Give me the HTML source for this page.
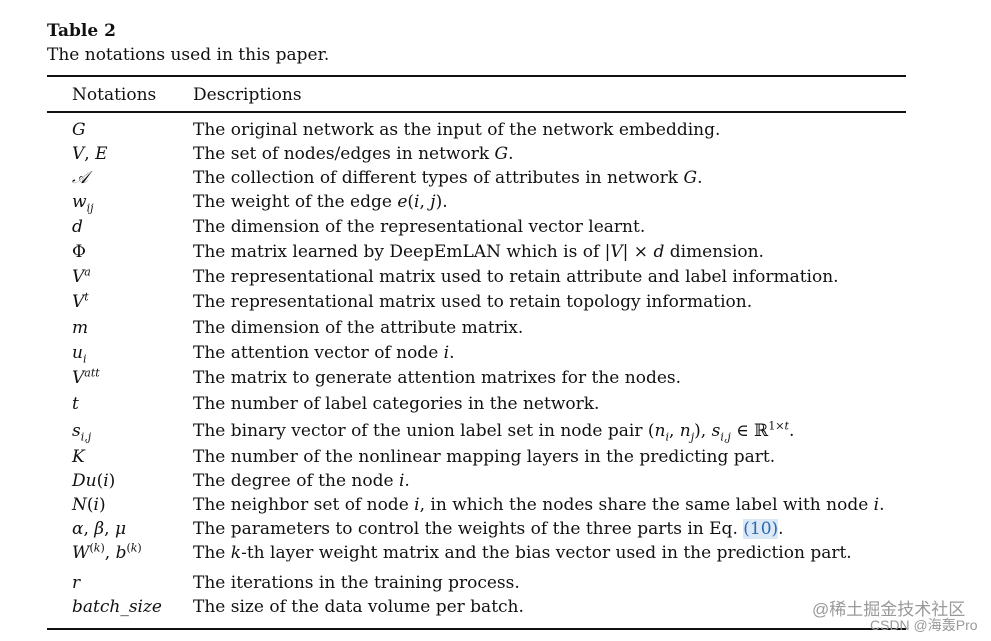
<!DOCTYPE html>
<html><head><meta charset="utf-8"><style>
body{margin:0;width:991px;height:641px;background:#fff;position:relative;overflow:hidden;font-family:"DejaVu Serif","Liberation Serif",serif;color:#111;font-size:17px}
.a{position:absolute;white-space:nowrap;line-height:20px}
.n{left:72px}.d{left:193px}
.r{position:absolute;left:47px;width:859px;background:#111}
i{font-style:italic}
sup,sub{font-size:11px;line-height:0}
</style></head><body>
<div class="a" style="left:47px;top:21px;font-weight:bold;font-size:17px">Table 2</div>
<div class="a" style="left:47px;top:45px">The notations used in this paper.</div>
<div class="r" style="top:75px;height:1.5px"></div>
<div class="a n" style="top:85px">Notations</div><div class="a d" style="top:85px">Descriptions</div>
<div class="r" style="top:111px;height:1.5px"></div>
<div class="a n" style="top:120px"><i>G</i></div><div class="a d" style="top:120px">The original network as the input of the network embedding.</div>
<div class="a n" style="top:144px"><i>V</i>, <i>E</i></div><div class="a d" style="top:144px">The set of nodes/edges in network <i>G</i>.</div>
<div class="a n" style="top:168px"><i>𝒜</i></div><div class="a d" style="top:168px">The collection of different types of attributes in network <i>G</i>.</div>
<div class="a n" style="top:192px"><i>w<sub>ij</sub></i></div><div class="a d" style="top:192px">The weight of the edge <i>e</i>(<i>i</i>, <i>j</i>).</div>
<div class="a n" style="top:217px"><i>d</i></div><div class="a d" style="top:217px">The dimension of the representational vector learnt.</div>
<div class="a n" style="top:242px">Φ</div><div class="a d" style="top:242px">The matrix learned by DeepEmLAN which is of |<i>V</i>| × <i>d</i> dimension.</div>
<div class="a n" style="top:267px"><i>V<sup>a</sup></i></div><div class="a d" style="top:267px">The representational matrix used to retain attribute and label information.</div>
<div class="a n" style="top:292px"><i>V<sup>t</sup></i></div><div class="a d" style="top:292px">The representational matrix used to retain topology information.</div>
<div class="a n" style="top:318px"><i>m</i></div><div class="a d" style="top:318px">The dimension of the attribute matrix.</div>
<div class="a n" style="top:343px"><i>u<sub>i</sub></i></div><div class="a d" style="top:343px">The attention vector of node <i>i</i>.</div>
<div class="a n" style="top:368px"><i>V<sup>att</sup></i></div><div class="a d" style="top:368px">The matrix to generate attention matrixes for the nodes.</div>
<div class="a n" style="top:394px"><i>t</i></div><div class="a d" style="top:394px">The number of label categories in the network.</div>
<div class="a n" style="top:421px"><i>s<sub>i,j</sub></i></div><div class="a d" style="top:421px">The binary vector of the union label set in node pair (<i>n<sub>i</sub></i>, <i>n<sub>j</sub></i>), <i>s<sub>i,j</sub></i> ∈ ℝ<sup>1×<i>t</i></sup>.</div>
<div class="a n" style="top:447px"><i>K</i></div><div class="a d" style="top:447px">The number of the nonlinear mapping layers in the predicting part.</div>
<div class="a n" style="top:471px"><i>Du</i>(<i>i</i>)</div><div class="a d" style="top:471px">The degree of the node <i>i</i>.</div>
<div class="a n" style="top:495px"><i>N</i>(<i>i</i>)</div><div class="a d" style="top:495px">The neighbor set of node <i>i</i>, in which the nodes share the same label with node <i>i</i>.</div>
<div class="a n" style="top:519px"><i>α</i>, <i>β</i>, <i>μ</i></div><div class="a d" style="top:519px">The parameters to control the weights of the three parts in Eq. <span style="color:#2a6ab0;background:#dbe8f5">(10)</span>.</div>
<div class="a n" style="top:543px"><i>W</i><sup>(<i>k</i>)</sup>, <i>b</i><sup>(<i>k</i>)</sup></div><div class="a d" style="top:543px">The <i>k</i>-th layer weight matrix and the bias vector used in the prediction part.</div>
<div class="a n" style="top:573px"><i>r</i></div><div class="a d" style="top:573px">The iterations in the training process.</div>
<div class="a n" style="top:597px"><i>batch_size</i></div><div class="a d" style="top:597px">The size of the data volume per batch.</div>
<div class="r" style="top:628px;height:1.5px"></div>
<div class="a" style="left:812px;top:600px;font-family:'Liberation Sans','Noto Sans CJK SC',sans-serif;font-size:17px;color:#999">@稀土掘金技术社区</div>
<div class="a" style="left:870px;top:617px;font-family:'Liberation Sans','Noto Sans CJK SC',sans-serif;font-size:14px;color:#999;line-height:16px">CSDN @海轰Pro</div>
</body></html>
